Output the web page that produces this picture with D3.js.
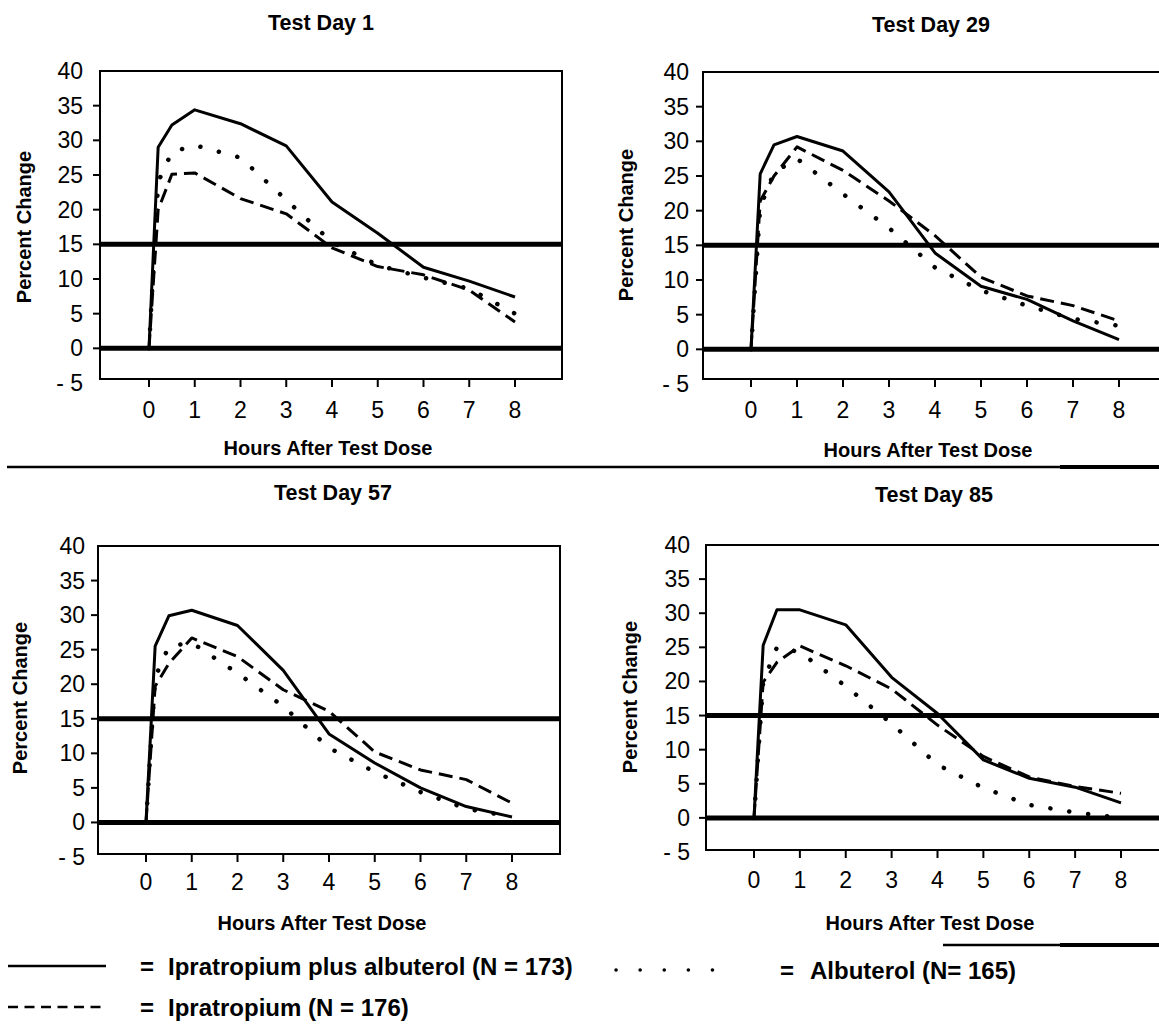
<!DOCTYPE html>
<html>
<head>
<meta charset="utf-8">
<script src="https://cdn.jsdelivr.net/npm/d3@7"></script>
<style>
  body { margin: 0; background: #fff; }
  svg { display: block; }
  text { font-family: 'Liberation Sans', Arial, sans-serif; fill: #000; }
</style>
</head>
<body>
<script>
// data: percent change in FEV1 after the test dose
var hours = [0, 0.2, 0.5, 1, 2, 3, 4, 5, 6, 7, 8];
var xTicks = [0, 1, 2, 3, 4, 5, 6, 7, 8];
var yTicks = [-5, 0, 5, 10, 15, 20, 25, 30, 35, 40];
var refLines = [0, 15];
var panelTitles = ['Test Day 1', 'Test Day 29', 'Test Day 57', 'Test Day 85'];

var comboDay1 = [0, 29, 32.2, 34.4, 32.4, 29.2, 21.1, 16.6, 11.7, 9.7, 7.4];
var ipratDay1 = [0, 20, 25.1, 25.3, 21.6, 19.4, 14.5, 11.8, 10.6, 8.4, 3.8];
var albutDay1 = [0, 24, 28.3, 29.3, 27.5, 21.4, 15.3, 12, 10.2, 8.6, 5];

var comboDay29 = [0, 25.3, 29.5, 30.7, 28.6, 22.7, 13.9, 9.1, 7.2, 4.1, 1.4];
var ipratDay29 = [0, 21.4, 25, 29.2, 25.8, 21.4, 16.4, 10.4, 7.7, 6.3, 4.1];
var albutDay29 = [0, 20.5, 25.5, 27.5, 22.4, 17.5, 11.8, 8.5, 6.3, 4.4, 3.4];

var comboDay57 = [0, 25.5, 29.9, 30.7, 28.5, 22, 12.8, 8.6, 5, 2.3, 0.8];
var ipratDay57 = [0, 19.7, 23, 26.7, 24, 19.2, 16.1, 10.2, 7.6, 6.2, 2.8];
var albutDay57 = [0, 21, 25.5, 26, 21.6, 16.8, 10.8, 7.3, 4.4, 2, 0.8];

var comboDay85 = [0, 25.3, 30.5, 30.5, 28.3, 20.6, 15.3, 8.5, 5.8, 4.5, 2.2];
var ipratDay85 = [0, 19.9, 22.8, 25.2, 22.3, 18.9, 13.6, 9, 6, 4.6, 3.6];
var albutDay85 = [0, 20, 25, 24.3, 19.3, 13.8, 7.8, 4.4, 1.9, 0.8, 0];

var seriesNames = ['Ipratropium plus albuterol (N = 173)', 'Ipratropium (N = 176)', 'Albuterol (N= 165)'];
var dayData = [
  [comboDay1, ipratDay1, albutDay1],
  [comboDay29, ipratDay29, albutDay29],
  [comboDay57, ipratDay57, albutDay57],
  [comboDay85, ipratDay85, albutDay85]
];

// line styles per series: solid, dashed, dotted
var styles = [
  { width: 3, dash: null, cap: 'butt' },
  { width: 3, dash: '14 7', cap: 'butt' },
  { width: 4.5, dash: '0.1 19', cap: 'round' }
];

// panel geometry
var panels = [
  { left: 100, right: 562, top: 71, bottom: 379, x0: 149, x8: 515, y40: 71, ym5: 383,
    title: [321, 23], xTitle: [328, 448], tickY: 410, yTitleX: 24, yTitleY: 227, labelRight: 83 },
  { left: 703, right: 1175, top: 72, bottom: 379, x0: 751, x8: 1119, y40: 72, ym5: 384,
    title: [931, 25], xTitle: [928, 450], tickY: 410, yTitleX: 626, yTitleY: 225, labelRight: 689 },
  { left: 98, right: 560, top: 546, bottom: 854, x0: 146, x8: 512, y40: 546, ym5: 857,
    title: [333, 493], xTitle: [322, 923], tickY: 882, yTitleX: 20, yTitleY: 698, labelRight: 85 },
  { left: 706, right: 1175, top: 545, bottom: 850, x0: 754, x8: 1121, y40: 545, ym5: 852,
    title: [934, 495], xTitle: [930, 923], tickY: 880, yTitleX: 630, yTitleY: 697, labelRight: 690 }
];

var svg = d3.select('body').append('svg')
  .attr('width', 1159)
  .attr('height', 1027);

panels.forEach(function(p, i) {
  var x = d3.scaleLinear().domain([0, 8]).range([p.x0, p.x8]);
  var y = d3.scaleLinear().domain([-5, 40]).range([p.ym5, p.y40]);
  var g = svg.append('g');

  g.append('text')
    .attr('x', p.title[0])
    .attr('y', p.title[1])
    .attr('text-anchor', 'middle')
    .attr('dominant-baseline', 'central')
    .style('font-size', '21.5px')
    .style('font-weight', 'bold')
    .text(panelTitles[i]);

  // frame
  g.append('rect')
    .attr('x', p.left)
    .attr('y', p.top)
    .attr('width', p.right - p.left)
    .attr('height', p.bottom - p.top)
    .style('fill', 'none')
    .style('stroke', '#000')
    .style('stroke-width', 2);

  // y ticks + labels
  g.selectAll('.ytick')
    .data(yTicks.filter(function(d) { return d > -5 && d < 40; }))
    .enter().append('line')
    .attr('x1', p.left - 7)
    .attr('x2', p.left)
    .attr('y1', function(d) { return y(d); })
    .attr('y2', function(d) { return y(d); })
    .style('stroke', '#000')
    .style('stroke-width', 2);

  g.selectAll('.ylab')
    .data(yTicks)
    .enter().append('text')
    .attr('x', p.labelRight)
    .attr('y', function(d) { return y(d); })
    .attr('text-anchor', 'end')
    .attr('dominant-baseline', 'central')
    .style('font-size', '23px')
    .text(function(d) { return d < 0 ? '- ' + Math.abs(d) : d; });

  // x ticks + labels
  g.selectAll('.xtick')
    .data(xTicks)
    .enter().append('line')
    .attr('x1', function(d) { return x(d); })
    .attr('x2', function(d) { return x(d); })
    .attr('y1', p.bottom)
    .attr('y2', p.bottom + 8)
    .style('stroke', '#000')
    .style('stroke-width', 2);

  g.selectAll('.xlab')
    .data(xTicks)
    .enter().append('text')
    .attr('x', function(d) { return x(d); })
    .attr('y', p.tickY)
    .attr('text-anchor', 'middle')
    .attr('dominant-baseline', 'central')
    .style('font-size', '23px')
    .text(function(d) { return d; });

  g.append('text')
    .attr('x', p.xTitle[0])
    .attr('y', p.xTitle[1])
    .attr('text-anchor', 'middle')
    .attr('dominant-baseline', 'central')
    .style('font-size', '20px')
    .style('font-weight', 'bold')
    .text('Hours After Test Dose');

  g.append('text')
    .attr('transform', 'translate(' + p.yTitleX + ',' + p.yTitleY + ') rotate(-90)')
    .attr('text-anchor', 'middle')
    .attr('dominant-baseline', 'central')
    .style('font-size', '20px')
    .style('font-weight', 'bold')
    .text('Percent Change');

  // thick reference lines at 0 and 15
  g.selectAll('.ref')
    .data(refLines)
    .enter().append('line')
    .attr('x1', p.left)
    .attr('x2', p.right)
    .attr('y1', function(d) { return y(d); })
    .attr('y2', function(d) { return y(d); })
    .style('stroke', '#000')
    .style('stroke-width', 5);

  var line = d3.line()
    .x(function(d, k) { return x(hours[k]); })
    .y(function(d) { return y(d); });

  dayData[i].forEach(function(vals, s) {
    g.append('path')
      .attr('d', line(vals))
      .style('fill', 'none')
      .style('stroke', '#000')
      .style('stroke-width', styles[s].width)
      .style('stroke-linecap', styles[s].cap)
      .style('stroke-linejoin', 'round')
      .style('stroke-dasharray', styles[s].dash);
  });
});

// separator rules
svg.append('line')
  .attr('x1', 7).attr('x2', 1159)
  .attr('y1', 467).attr('y2', 467)
  .style('stroke', '#000').style('stroke-width', 2.5);
svg.append('line')
  .attr('x1', 1060).attr('x2', 1159)
  .attr('y1', 467).attr('y2', 467)
  .style('stroke', '#000').style('stroke-width', 4);
svg.append('line')
  .attr('x1', 943).attr('x2', 1159)
  .attr('y1', 945).attr('y2', 945)
  .style('stroke', '#000').style('stroke-width', 2.5);
svg.append('line')
  .attr('x1', 1060).attr('x2', 1159)
  .attr('y1', 945).attr('y2', 945)
  .style('stroke', '#000').style('stroke-width', 4);

// legend
var legendItems = [
  { x1: 8, x2: 106, y: 966, eq: 140, tx: 168, legStyle: { width: 2.5, dash: null, cap: 'butt' } },
  { x1: 8, x2: 106, y: 1007, eq: 140, tx: 168, legStyle: { width: 2.5, dash: '10 6.5', cap: 'butt' } },
  { x1: 616, x2: 714, y: 970, eq: 780, tx: 810, legStyle: { width: 3.5, dash: '0.1 24', cap: 'round' } }
];

legendItems.forEach(function(it, s) {
  svg.append('line')
    .attr('x1', it.x1).attr('x2', it.x2)
    .attr('y1', it.y).attr('y2', it.y)
    .style('stroke', '#000')
    .style('stroke-width', it.legStyle.width)
    .style('stroke-linecap', it.legStyle.cap)
    .style('stroke-dasharray', it.legStyle.dash);
  svg.append('text')
    .attr('x', it.eq)
    .attr('y', it.y)
    .attr('dominant-baseline', 'central')
    .style('font-size', '24px')
    .style('font-weight', 'bold')
    .text('=');
  svg.append('text')
    .attr('x', it.tx)
    .attr('y', it.y)
    .attr('dominant-baseline', 'central')
    .style('font-size', '24px')
    .style('font-weight', 'bold')
    .text(seriesNames[s]);
});
</script>
</body>
</html>
